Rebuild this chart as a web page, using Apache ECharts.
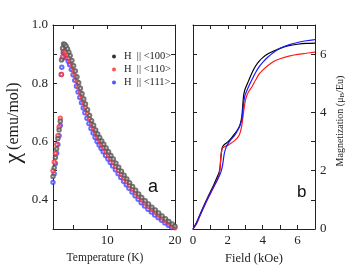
<!DOCTYPE html>
<html><head><meta charset="utf-8">
<script src="https://cdn.jsdelivr.net/npm/echarts@6/dist/echarts.min.js"></script>
<style>html,body{margin:0;padding:0;background:#fff}#c{width:350px;height:270px}</style>
</head><body><div id="c"></div>
<script>
// ---- Panel a: susceptibility vs temperature ----
const T_100 = [2.0,2.18,2.36,2.54,2.72,2.9,3.08,3.25,3.4,3.55,
  3.75,3.95,4.15,4.35,4.55,4.8,5.05,5.3,5.55,5.8,6.05,6.3,6.55,6.8,7.1,7.4,7.7,8.0,8.3,8.6,8.9,9.2,9.5,9.85,10.2,10.55,10.9,11.3,11.7,12.1,12.5,12.9,13.3,13.75,14.2,14.65,15.1,15.6,16.1,16.6,17.1,17.6,18.1,18.6,19.1,19.6,20.0];
const chi_100 = [0.48,0.51,0.545,0.575,0.61,0.64,0.67,0.88,0.92,0.935,
  0.933,0.927,0.918,0.907,0.895,0.878,0.86,0.842,0.822,0.802,0.783,0.764,0.746,0.729,0.709,0.69,0.672,0.656,0.64,0.626,0.614,0.602,0.591,0.578,0.565,0.552,0.54,0.526,0.512,0.498,0.485,0.472,0.459,0.446,0.433,0.42,0.408,0.397,0.386,0.375,0.365,0.355,0.345,0.335,0.326,0.317,0.31];
const T_110 = [2.0,2.18,2.36,2.54,2.72,2.9,3.08,3.25,3.4,3.55,
  3.75,3.95,4.15,4.35,4.55,4.8,5.05,5.3,5.55,5.8,6.05,6.3,6.55,6.8,7.1,7.4,7.7,8.0,8.3,8.6,8.9,9.2,9.5,9.85,10.2,10.55,10.9,11.3,11.7,12.1,12.5,12.9,13.3,13.75,14.2,14.65,15.1,15.6,16.1,16.6,17.1,17.6,18.1,18.6,19.1,19.6,20.0];
const chi_110 = [0.5,0.53,0.56,0.59,0.62,0.65,0.68,0.83,0.89,0.912,
  0.91,0.905,0.897,0.887,0.876,0.86,0.843,0.825,0.806,0.787,0.768,0.75,0.732,0.716,0.696,0.678,0.66,0.644,0.629,0.615,0.602,0.59,0.579,0.566,0.553,0.541,0.529,0.515,0.501,0.488,0.475,0.462,0.45,0.437,0.424,0.412,0.4,0.389,0.378,0.368,0.358,0.348,0.338,0.329,0.32,0.311,0.304];
const T_111 = [2.0,2.18,2.36,2.54,2.72,2.9,3.08,3.22,3.3,3.4,3.5,
  3.65,3.85,4.05,4.25,4.45,4.7,4.95,5.2,5.45,5.7,5.95,6.2,6.45,6.7,7.0,7.3,7.6,7.9,8.2,8.5,8.8,9.1,9.4,9.75,10.1,10.45,10.8,11.2,11.6,12.0,12.4,12.8,13.2,13.65,14.1,14.55,15.0,15.5,16.0,16.5,17.0,17.5,18.0,18.5,19.0,19.5,20.0];
const chi_111 = [0.46,0.49,0.525,0.56,0.59,0.62,0.655,0.83,0.855,0.885,0.905,
  0.902,0.896,0.887,0.876,0.864,0.847,0.829,0.81,0.79,0.77,0.751,0.733,0.715,0.699,0.68,0.662,0.645,0.629,0.614,0.6,0.588,0.576,0.565,0.552,0.54,0.528,0.516,0.503,0.49,0.477,0.464,0.452,0.44,0.427,0.414,0.402,0.39,0.379,0.368,0.358,0.348,0.339,0.33,0.321,0.313,0.305,0.297];

// ---- Panel b: magnetization vs field ----
const F_100 = [0,0.2,0.4,0.6,0.8,1.0,1.2,1.4,1.5,1.55,1.6,1.65,1.7,1.8,2.0,2.2,2.4,2.6,2.7,2.8,2.85,2.9,2.95,3.0,3.2,3.4,3.6,3.8,4.0,4.3,4.6,5.0,5.5,6.0,6.5,7.0];
const M_100 = [0,0.22,0.5,0.77,1.03,1.28,1.53,1.8,1.95,2.1,2.45,2.72,2.82,2.9,2.99,3.12,3.27,3.45,3.58,3.85,4.2,4.55,4.72,4.82,5.1,5.38,5.6,5.76,5.88,6.01,6.1,6.2,6.29,6.34,6.37,6.38];
const F_110 = [0,0.2,0.4,0.6,0.8,1.0,1.2,1.4,1.5,1.55,1.6,1.65,1.7,1.8,2.0,2.2,2.4,2.6,2.7,2.8,2.9,3.0,3.1,3.2,3.4,3.6,3.8,4.0,4.3,4.6,5.0,5.5,6.0,6.5,7.0];
const M_110 = [0,0.17,0.45,0.72,0.98,1.22,1.46,1.7,1.85,2.05,2.5,2.7,2.78,2.82,2.87,2.95,3.04,3.17,3.3,3.55,4.0,4.4,4.6,4.72,4.9,5.12,5.32,5.45,5.61,5.74,5.84,5.93,5.99,6.03,6.07];
const F_111 = [0,0.2,0.4,0.6,0.8,1.0,1.2,1.4,1.6,1.7,1.8,1.9,2.0,2.2,2.4,2.6,2.7,2.8,2.9,2.95,3.0,3.2,3.4,3.6,3.8,4.0,4.3,4.6,5.0,5.5,6.0,6.5,7.0];
const M_111 = [0,0.2,0.47,0.73,0.99,1.23,1.46,1.68,1.95,2.2,2.6,2.8,2.92,3.08,3.22,3.42,3.55,3.75,4.3,4.5,4.62,4.9,5.15,5.38,5.57,5.72,5.9,6.05,6.2,6.32,6.4,6.46,6.5];

// ---- ticks / labels ----
const tTicks = [5,10,15,20];
const tLabels = [10,20];
const chiLabels = [0.4,0.6,0.8,1.0];
const fLabels = [0,2,4,6];
const mLabels = [0,2,4,6];
const names = ['H  || <100>','H  || <110>','H  || <111>'];
const colors = ['#000000','#ff1a1a','#1a1aff'];

const zip = (a,b) => a.map((v,i)=>[v,b[i]]);
const serif = '"Liberation Serif","Times New Roman",serif';
const axColor = '#222';

const baseAxis = {
  axisLine:{show:true,onZero:false,lineStyle:{color:axColor,width:1}},
  axisTick:{show:true,inside:true,length:4,lineStyle:{color:axColor}},
  splitLine:{show:false},
  axisLabel:{fontFamily:serif,fontSize:13,color:'#222'}
};
function ax(o){ return Object.assign({}, JSON.parse(JSON.stringify(baseAxis)), o, {
  axisLine:Object.assign({}, baseAxis.axisLine, o.axisLine||{}),
  axisTick:Object.assign({}, baseAxis.axisTick, o.axisTick||{}),
  axisLabel:Object.assign({}, baseAxis.axisLabel, o.axisLabel||{})
});}

const chart = echarts.init(document.getElementById('c'), null, {renderer:'canvas'});
chart.setOption({
  animation:false,
  backgroundColor:'#fff',
  grid:[
    {left:53, top:25, width:122, height:204},
    {left:193, top:25, width:122, height:204}
  ],
  xAxis:[
    ax({gridIndex:0,type:'value',min:2,max:20,position:'bottom',
      axisTick:{customValues:tTicks}, axisLabel:{customValues:tLabels,margin:5},
      name:'Temperature (K)', nameLocation:'middle', nameGap:19,
      nameTextStyle:{fontFamily:serif,fontSize:11.5,color:'#222',padding:[0,18,0,0]}}),
    ax({gridIndex:0,type:'value',min:2,max:20,position:'top',
      axisTick:{customValues:tTicks}, axisLabel:{show:false}}),
    ax({gridIndex:1,type:'value',min:0,max:7,interval:1,position:'bottom',
      axisLabel:{customValues:fLabels,margin:5},
      name:'Field (kOe)', nameLocation:'middle', nameGap:19,
      nameTextStyle:{fontFamily:serif,fontSize:12.5,color:'#222'}}),
    ax({gridIndex:1,type:'value',min:0,max:7,interval:1,position:'top',
      axisLabel:{show:false}})
  ],
  yAxis:[
    ax({gridIndex:0,type:'value',min:0.3,max:1.0,interval:0.1,position:'left',
      axisLabel:{customValues:chiLabels,margin:5,formatter:v=>v.toFixed(1)},
      name:'{chi|χ} {t|(emu/mol)}', nameLocation:'middle', nameGap:27,
      nameTextStyle:{fontFamily:serif,color:'#222',padding:[0,0,0,8],
        rich:{chi:{fontFamily:serif,fontSize:24,color:'#222'},t:{fontFamily:serif,fontSize:16,color:'#222'}}}}),
    ax({gridIndex:0,type:'value',min:0.3,max:1.0,interval:0.1,position:'right',
      axisLabel:{show:false}}),
    ax({gridIndex:1,type:'value',min:0,max:7,interval:1,position:'left',
      axisLabel:{show:false}}),
    ax({gridIndex:1,type:'value',min:0,max:7,interval:1,position:'right',
      axisLabel:{customValues:mLabels,margin:5},
      name:'Magnetization (μ{s|B}/Eu)', nameLocation:'middle', nameGap:19, nameRotate:90,
      nameTextStyle:{fontFamily:serif,fontSize:10,color:'#222',padding:[0,0,0,12],
        rich:{s:{fontFamily:serif,fontSize:7,color:'#222',verticalAlign:'bottom',padding:[5,0,0,0]}}}})
  ],
  legend:{
    left:107, top:45, orient:'vertical', itemGap:0, itemWidth:10, itemHeight:4,
    textStyle:{fontFamily:serif,fontSize:10.5,color:'#222',lineHeight:13},
    data:names.map((n,i)=>({name:n,icon:'circle',itemStyle:{color:colors[i],borderWidth:0}}))
  },
  graphic:[
    {type:'text',left:148,top:178,style:{text:'a',font:'18px "Liberation Sans",Arial,sans-serif',fill:'#111'}},
    {type:'text',left:297,top:184,style:{text:'b',font:'17px "Liberation Sans",Arial,sans-serif',fill:'#111'}}
  ],
  series:[
    {name:names[2],type:'scatter',xAxisIndex:0,yAxisIndex:0,data:zip(T_111,chi_111),symbol:'emptyCircle',symbolSize:3.4,
      itemStyle:{color:'#3a3aff',borderColor:'#3a3aff',borderWidth:0.6,opacity:0.75}},
    {name:names[1],type:'scatter',xAxisIndex:0,yAxisIndex:0,data:zip(T_110,chi_110),symbol:'emptyCircle',symbolSize:3.4,
      itemStyle:{color:'#ff3030',borderColor:'#ff3030',borderWidth:0.6,opacity:0.75}},
    {name:names[0],type:'scatter',xAxisIndex:0,yAxisIndex:0,data:zip(T_100,chi_100),symbol:'emptyCircle',symbolSize:3.4,
      itemStyle:{color:'#555',borderColor:'#555',borderWidth:0.6,opacity:0.8}},
    {name:'b100',type:'line',xAxisIndex:2,yAxisIndex:2,data:zip(F_100,M_100),showSymbol:false,smooth:0.3,
      lineStyle:{color:colors[0],width:1.2}},
    {name:'b110',type:'line',xAxisIndex:2,yAxisIndex:2,data:zip(F_110,M_110),showSymbol:false,smooth:0.3,
      lineStyle:{color:colors[1],width:1.2}},
    {name:'b111',type:'line',xAxisIndex:2,yAxisIndex:2,data:zip(F_111,M_111),showSymbol:false,smooth:0.3,
      lineStyle:{color:colors[2],width:1.2}}
  ]
});
</script></body></html>
